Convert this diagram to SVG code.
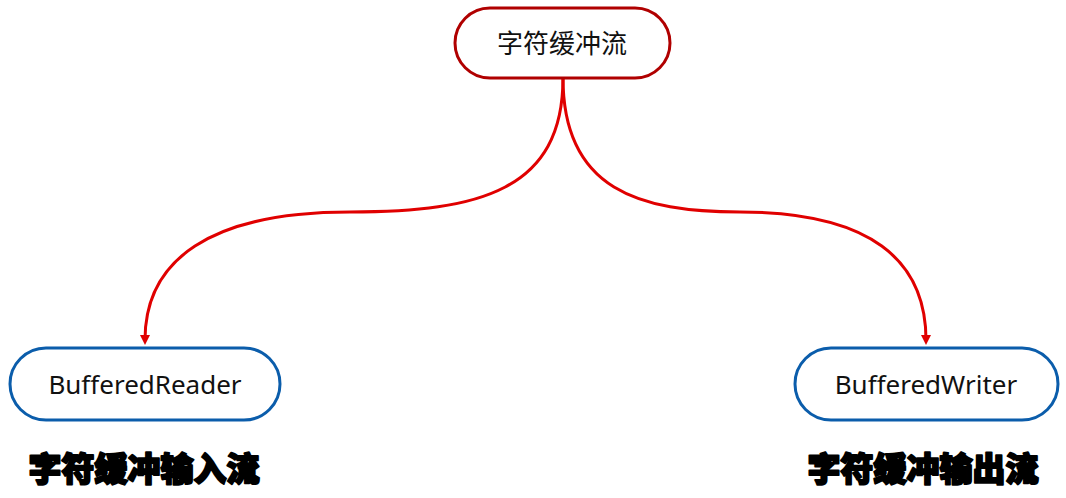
<svg xmlns="http://www.w3.org/2000/svg" width="1066" height="498" viewBox="0 0 1066 498">
<style>
.node-top{fill:#fff;stroke:#b00000;stroke-width:3}
.node{fill:#fff;stroke:#0b5dab;stroke-width:3}
.lbl{font-family:"Noto Sans","Noto Sans CJK SC",sans-serif;font-size:26px;fill:#111;text-anchor:middle;dominant-baseline:central}
.cap{font-family:"Noto Sans CJK SC",sans-serif;font-weight:900;font-size:33px;fill:#000;text-anchor:middle;stroke:#000;stroke-width:2;stroke-linejoin:round}
.edge{fill:none;stroke:#e00000;stroke-width:3;marker-end:url(#arr)}
</style>
<defs>
<marker id="arr" markerWidth="10" markerHeight="10" refX="5" refY="5" orient="auto" markerUnits="userSpaceOnUse">
<path d="M0,0 L10,5 L0,10 z" fill="#e00000"/>
</marker>
</defs>
<g id="connectors">
<path class="edge" d="M563,78 C563,190 480,212 350,212 C210,212 145,260 145,340"/>
<path class="edge" d="M563,78 C563,190 640,212 740,212 C870,212 926,260 926,340"/>
</g>
<g id="node-root">
<rect class="node-top" x="455" y="8" width="215" height="70" rx="35"/>
<text class="lbl" x="562" y="43">字符缓冲流</text>
</g>
<g id="node-reader">
<rect class="node" x="10" y="348" width="270" height="72" rx="36"/>
<text class="lbl" x="145" y="384">BufferedReader</text>
</g>
<g id="node-writer">
<rect class="node" x="795" y="348" width="263" height="72" rx="36"/>
<text class="lbl" x="926" y="384">BufferedWriter</text>
</g>
<g id="caption-in">
<text class="cap" x="144" y="481">字符缓冲输入流</text>
</g>
<g id="caption-out">
<text class="cap" x="923" y="481">字符缓冲输出流</text>
</g>
</svg>
